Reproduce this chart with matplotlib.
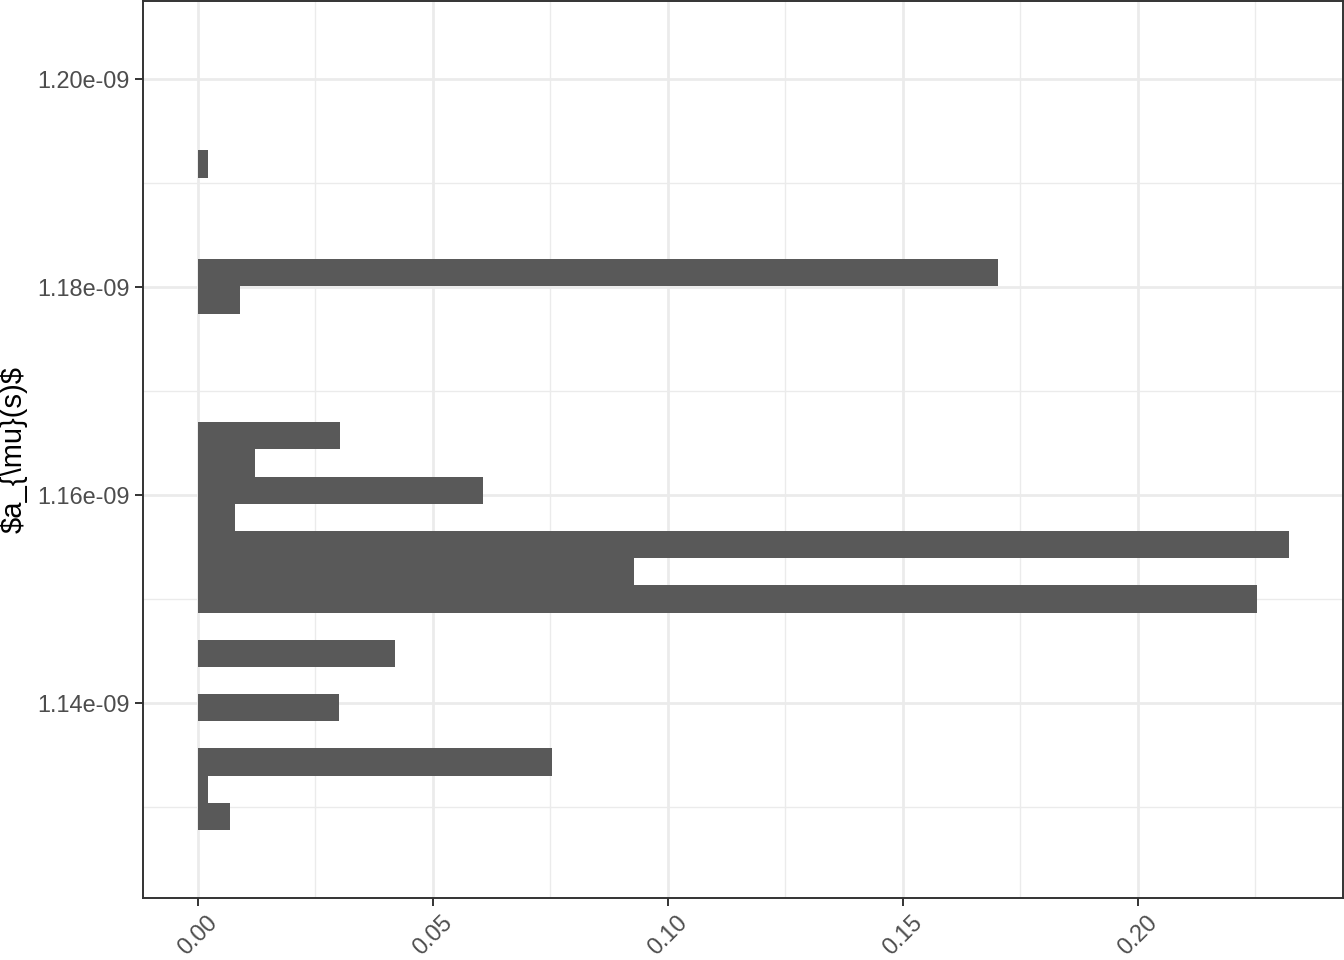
from __future__ import annotations

import matplotlib

matplotlib.use("Agg")
import matplotlib.pyplot as plt
import numpy as np
from matplotlib.ticker import FixedLocator, FuncFormatter

# histogram of a_mu(s): 30 bins, listed from the lowest bin upwards
BIN_START = 1.125213e-9
BIN_WIDTH = 0.0026117e-9
FREQUENCY = [
    0.0, 0.0070, 0.0023, 0.0754, 0.0, 0.0300, 0.0, 0.0421, 0.0, 0.2255,
    0.0929, 0.2321, 0.0079, 0.0608, 0.0123, 0.0302, 0.0, 0.0, 0.0, 0.0,
    0.0091, 0.1702, 0.0, 0.0, 0.0, 0.0023, 0.0, 0.0, 0.0, 0.0,
]
X_TICKS = [0.00, 0.05, 0.10, 0.15, 0.20]
Y_TICKS = [1.14e-9, 1.16e-9, 1.18e-9, 1.20e-9]
Y_LABEL = r"\$a_{\mu}(s)\$"

STYLE = {
    "bar": "#595959",
    "grid": "#EBEBEB",
    "border": "#333333",
    "tick_text": "#4D4D4D",
    "font": "Liberation Sans",
}


def main() -> None:
    plt.rcParams["font.family"] = [STYLE["font"], "DejaVu Sans"]

    freq = np.array(FREQUENCY)
    n_bins = len(freq)
    centers = BIN_START + BIN_WIDTH * (np.arange(n_bins) + 0.5)

    fig = plt.figure(figsize=(13.44, 9.6), dpi=100, facecolor="white")
    ax = fig.add_axes([0.1064, 0.0646, 0.8929, 0.9344])
    ax.set_facecolor("white")

    ax.barh(centers, freq, height=BIN_WIDTH, left=0, color=STYLE["bar"],
            edgecolor="none", zorder=3)

    # ggplot-style 5% expansion
    xmax = freq.max()
    ax.set_xlim(-0.05 * xmax, 1.05 * xmax)
    span = n_bins * BIN_WIDTH
    ax.set_ylim(BIN_START - 0.05 * span, BIN_START + span + 0.05 * span)

    ax.xaxis.set_major_locator(FixedLocator(X_TICKS))
    ax.yaxis.set_major_locator(FixedLocator(Y_TICKS))
    x_minor = [(a + b) / 2 for a, b in zip(X_TICKS, X_TICKS[1:] + [X_TICKS[-1] + 0.05])]
    y_minor = [Y_TICKS[0] - 0.01e-9] + [(a + b) / 2 for a, b in zip(Y_TICKS, Y_TICKS[1:])]
    ax.xaxis.set_minor_locator(FixedLocator(x_minor))
    ax.yaxis.set_minor_locator(FixedLocator(y_minor))
    ax.xaxis.set_major_formatter(FuncFormatter(lambda v, _: f"{v:.2f}"))
    ax.yaxis.set_major_formatter(FuncFormatter(lambda v, _: f"{v:.2e}"))

    ax.grid(which="major", color=STYLE["grid"], linewidth=2.0, zorder=0)
    ax.grid(which="minor", color=STYLE["grid"], linewidth=1.0, zorder=0)
    ax.set_axisbelow(True)

    for spine in ax.spines.values():
        spine.set_color(STYLE["border"])
        spine.set_linewidth(1.4)
        spine.set_zorder(4)

    ax.tick_params(which="major", length=5.5, width=1.4, color=STYLE["border"],
                   labelsize=16.9, labelcolor=STYLE["tick_text"], pad=4)
    ax.tick_params(which="minor", length=0)
    for label in ax.get_xticklabels():
        label.set_rotation(45)
        label.set_ha("center")
        label.set_va("top")

    ax.set_ylabel(Y_LABEL, fontsize=21, color="black", labelpad=6)
    ax.yaxis.set_label_coords(-0.0965, 0.5)

    fig.savefig("out.png", dpi=100, facecolor="white")
    plt.close(fig)


if __name__ == "__main__":
    main()
